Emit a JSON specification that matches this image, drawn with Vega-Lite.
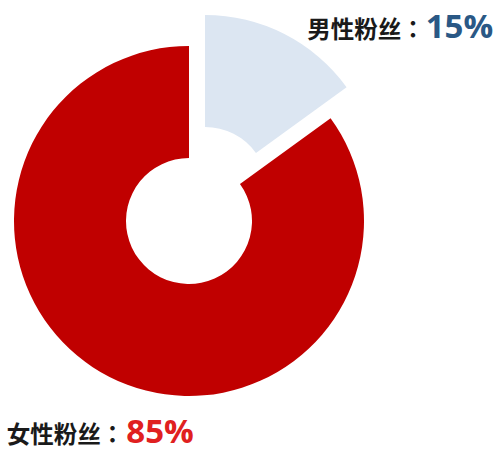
{
  "$schema": "https://vega.github.io/schema/vega-lite/v6.json",
  "width": 378,
  "height": 442,
  "autosize": "none",
  "padding": {"left": 0, "top": 0, "right": 122, "bottom": 16},
  "background": "white",
  "view": {"stroke": null},
  "data": {"values": [
    {"gender": "男性粉丝", "name": "男性粉丝：", "pct": "15%", "value": 15, "rank": 1},
    {"gender": "女性粉丝", "name": "女性粉丝：", "pct": "85%", "value": 85, "rank": 2}
  ]},
  "encoding": {
    "theta": {"field": "value", "type": "quantitative", "stack": true, "scale": {"domain": [0, 100]}},
    "order": {"field": "rank", "type": "quantitative"}
  },
  "layer": [
    {
      "mark": {"type": "arc", "innerRadius": 63, "outerRadius": 175, "fill": "#c00000"},
      "encoding": {"fillOpacity": {"condition": {"test": "datum.gender === '女性粉丝'", "value": 1}, "value": 0}}
    },
    {
      "mark": {"type": "arc", "innerRadius": 63, "outerRadius": 175, "fill": "#dce6f2", "xOffset": 16, "yOffset": -31},
      "encoding": {"fillOpacity": {"condition": {"test": "datum.gender === '男性粉丝'", "value": 1}, "value": 0}}
    },
    {
      "mark": {"type": "text", "radius": 202, "align": "right", "baseline": "alphabetic", "dx": 144, "dy": -3, "font": "Noto Sans CJK JP", "fontSize": 23.5, "fontWeight": "bold", "fill": "#1a1a1a"},
      "encoding": {"text": {"condition": {"test": "datum.gender === '男性粉丝'", "field": "name"}, "value": ""}}
    },
    {
      "mark": {"type": "text", "radius": 202, "align": "left", "baseline": "alphabetic", "dx": 145, "dy": -3, "font": "Open Sans", "fontSize": 33, "fontWeight": "bold", "fill": "#2a5885"},
      "encoding": {"text": {"condition": {"test": "datum.gender === '男性粉丝'", "field": "pct"}, "value": ""}}
    },
    {
      "mark": {"type": "text", "radius": 202, "align": "right", "baseline": "alphabetic", "dx": 27, "dy": 42, "font": "Noto Sans CJK JP", "fontSize": 23.5, "fontWeight": "bold", "fill": "#1a1a1a"},
      "encoding": {"text": {"condition": {"test": "datum.gender === '女性粉丝'", "field": "name"}, "value": ""}}
    },
    {
      "mark": {"type": "text", "radius": 202, "align": "left", "baseline": "alphabetic", "dx": 29, "dy": 42, "font": "Open Sans", "fontSize": 33, "fontWeight": "bold", "fill": "#e02020"},
      "encoding": {"text": {"condition": {"test": "datum.gender === '女性粉丝'", "field": "pct"}, "value": ""}}
    }
  ]
}
